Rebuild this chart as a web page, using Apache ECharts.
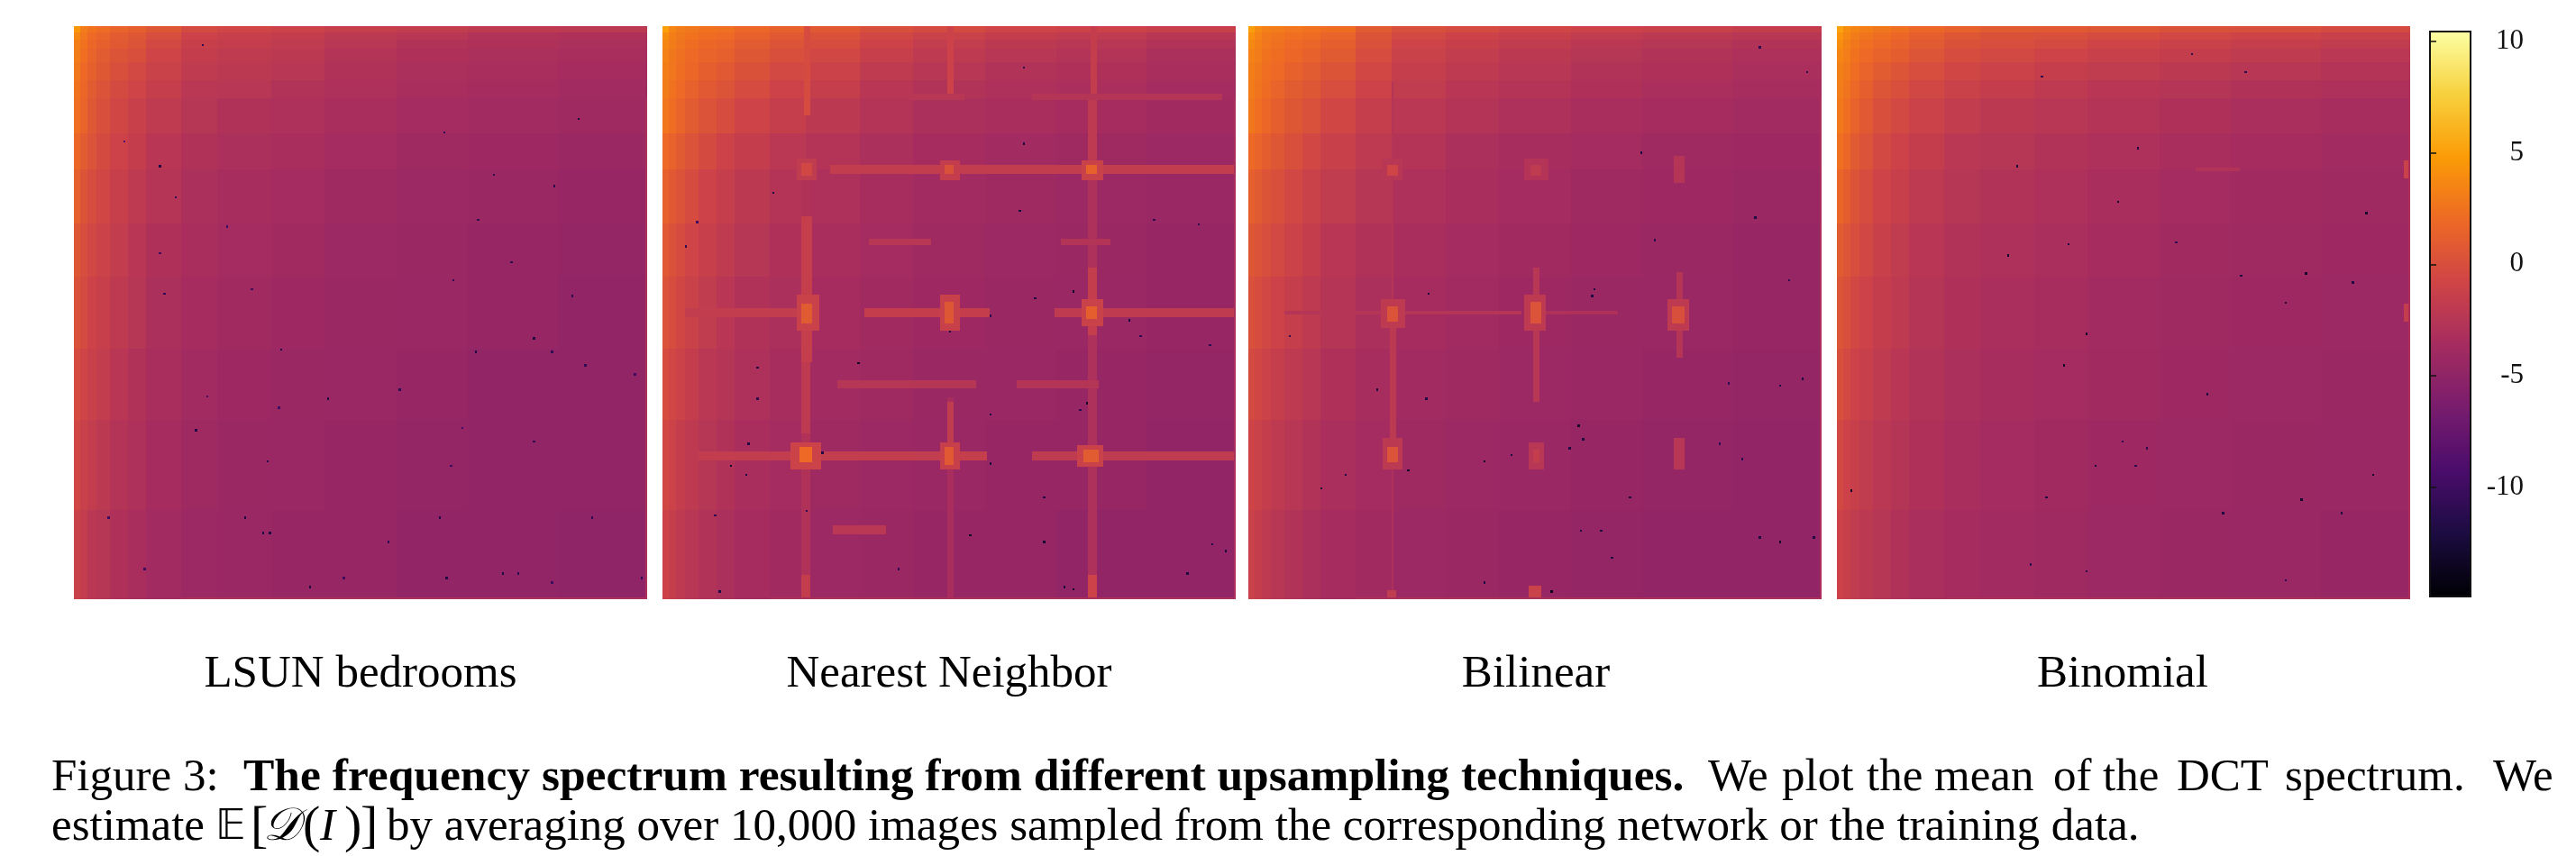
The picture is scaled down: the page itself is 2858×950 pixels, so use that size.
<!DOCTYPE html>
<html><head><meta charset="utf-8"><style>html,body{margin:0;padding:0;background:#fff}#c{width:2858px;height:950px}</style>
<script src="https://cdn.jsdelivr.net/npm/echarts@6/dist/echarts.min.js"></script></head><body><div id="c"></div>
<script>
const panelNames = ['LSUN bedrooms','Nearest Neighbor','Bilinear','Binomial'];
const binEdges = [0,3,6,10,16,24,32,48,64,88,112,144,176,216,256];
const colorTicks = [10,5,0,-5,-10];
const inferno = ['#000004','#1b0c41','#4a0c6b','#781c6d','#a52c60','#cf4446','#ed6925','#fb9b06','#f7d13d','#fcffa4'];

const lsunField = [
[4.6,3.0,2.5,2.1,1.6,1.2,0.6,-0.4,-0.7,-1.1,-1.5,-1.7,-2.0,-2.1],
[3.6,2.7,2.0,1.6,1.0,0.6,-0.1,-1.0,-1.4,-1.6,-2.1,-2.4,-2.8,-3.0],
[3.2,2.5,1.8,1.3,0.8,0.4,-0.5,-1.4,-1.6,-1.9,-2.4,-2.8,-3.0,-3.2],
[3.0,2.3,1.6,1.0,0.4,0.0,-0.8,-1.6,-1.9,-2.1,-2.7,-3.0,-3.2,-3.4],
[2.8,2.0,1.3,0.7,0.0,-0.5,-1.2,-1.9,-2.1,-2.4,-2.9,-3.2,-3.4,-3.6],
[2.5,1.8,1.0,0.3,-0.4,-0.8,-1.5,-2.2,-2.4,-2.8,-3.1,-3.4,-3.6,-3.8],
[2.3,1.6,0.7,0.0,-0.7,-1.3,-1.9,-2.5,-2.9,-3.1,-3.4,-3.7,-3.8,-4.0],
[1.8,1.0,0.3,-0.4,-1.0,-1.6,-2.3,-2.9,-3.2,-3.4,-3.7,-4.0,-4.1,-4.3],
[1.3,0.4,-0.2,-0.7,-1.4,-2.0,-2.6,-3.2,-3.5,-3.7,-4.0,-4.2,-4.3,-4.5],
[0.6,-0.1,-0.6,-1.1,-1.7,-2.3,-3.0,-3.4,-3.7,-3.9,-4.2,-4.3,-4.5,-4.7],
[0.2,-0.4,-1.0,-1.4,-2.0,-2.5,-3.2,-3.6,-3.9,-4.1,-4.3,-4.4,-4.6,-4.8],
[-0.3,-0.8,-1.3,-1.7,-2.3,-2.9,-3.4,-3.8,-4.1,-4.3,-4.4,-4.6,-4.8,-4.8],
[-0.7,-1.3,-1.7,-2.1,-2.7,-3.1,-3.6,-4.0,-4.3,-4.4,-4.5,-4.7,-4.8,-4.9],
[-1.2,-1.7,-2.2,-2.5,-3.0,-3.4,-3.8,-4.2,-4.4,-4.5,-4.6,-4.8,-4.9,-5.0]];
const nearestField = [
[5.0,3.6,3.0,2.8,2.5,2.4,1.8,1.4,0.8,0.0,-0.4,-0.8,-1.0,-1.4],
[4.0,3.2,2.8,2.5,2.2,2.0,1.4,0.8,0.2,-0.6,-1.2,-1.6,-1.9,-2.3],
[3.6,3.0,2.6,2.2,1.8,1.6,1.0,0.4,-0.2,-1.0,-1.7,-2.1,-2.4,-2.8],
[3.4,2.8,2.4,2.0,1.6,1.3,0.6,0.0,-0.6,-1.4,-2.0,-2.4,-2.7,-3.2],
[3.2,2.7,2.2,1.8,1.2,0.8,0.2,-0.5,-1.1,-1.9,-2.4,-2.8,-3.0,-3.4],
[3.0,2.5,2.0,1.4,0.8,0.4,-0.3,-1.0,-1.5,-2.3,-2.8,-3.1,-3.3,-3.7],
[2.7,2.2,1.6,1.0,0.3,-0.2,-0.9,-1.5,-2.1,-2.7,-3.2,-3.4,-3.6,-3.9],
[2.0,1.5,0.9,0.3,-0.4,-1.0,-1.6,-2.2,-2.7,-3.2,-3.6,-3.8,-4.0,-4.2],
[1.4,0.8,0.3,-0.3,-1.0,-1.5,-2.1,-2.7,-3.1,-3.5,-3.8,-4.0,-4.2,-4.4],
[0.8,0.2,-0.3,-0.8,-1.4,-1.9,-2.5,-3.0,-3.4,-3.7,-4.0,-4.2,-4.3,-4.5],
[0.3,-0.2,-0.7,-1.2,-1.8,-2.3,-2.9,-3.2,-3.6,-3.9,-4.1,-4.3,-4.4,-4.6],
[-0.2,-0.7,-1.1,-1.6,-2.2,-2.6,-3.1,-3.5,-3.8,-4.0,-4.3,-4.4,-4.5,-4.7],
[-0.6,-1.1,-1.6,-2.0,-2.5,-2.9,-3.4,-3.7,-4.0,-4.2,-4.4,-4.5,-4.6,-4.8],
[-1.0,-1.5,-2.0,-2.4,-2.8,-3.2,-3.6,-3.9,-4.2,-4.3,-4.5,-4.6,-4.8,-4.9]];
const bilinearField = [
[5.0,3.8,3.3,3.0,2.7,2.5,2.2,1.0,0.0,-0.3,-0.7,-1.0,-1.3,-1.6],
[4.2,3.4,2.9,2.6,2.3,2.1,1.6,0.4,-0.5,-1.0,-1.4,-1.8,-2.1,-2.4],
[3.8,3.2,2.7,2.4,2.0,1.7,1.2,0.1,-0.9,-1.4,-1.8,-2.2,-2.5,-2.8],
[3.4,3.0,2.5,2.2,1.8,1.4,0.9,-0.2,-1.2,-1.7,-2.1,-2.5,-2.8,-3.1],
[3.2,2.8,2.3,2.0,1.4,1.0,0.4,-0.6,-1.5,-2.0,-2.4,-2.8,-3.0,-3.3],
[3.0,2.6,2.1,1.6,1.0,0.6,-0.1,-1.0,-1.8,-2.3,-2.7,-3.0,-3.3,-3.5],
[2.8,2.3,1.8,1.2,0.6,0.1,-0.7,-1.5,-2.2,-2.7,-3.1,-3.4,-3.6,-3.8],
[2.0,1.6,1.1,0.6,0.0,-0.6,-1.3,-2.0,-2.7,-3.2,-3.5,-3.7,-4.0,-4.1],
[1.3,0.9,0.4,0.0,-0.6,-1.2,-1.8,-2.5,-3.1,-3.4,-3.7,-4.0,-4.1,-4.3],
[0.6,0.3,-0.1,-0.5,-1.1,-1.6,-2.3,-2.9,-3.4,-3.7,-3.9,-4.1,-4.3,-4.5],
[0.1,-0.2,-0.6,-1.0,-1.5,-2.0,-2.6,-3.2,-3.6,-3.8,-4.1,-4.3,-4.4,-4.6],
[-0.4,-0.7,-1.1,-1.5,-2.0,-2.4,-3.0,-3.5,-3.8,-4.0,-4.2,-4.4,-4.5,-4.7],
[-0.9,-1.2,-1.6,-2.0,-2.4,-2.8,-3.3,-3.7,-4.0,-4.2,-4.4,-4.5,-4.7,-4.8],
[-1.2,-1.6,-2.0,-2.4,-2.8,-3.2,-3.6,-3.9,-4.2,-4.3,-4.5,-4.7,-4.8,-4.9]];
const binomialField = [
[5.2,4.0,3.5,3.2,2.8,2.4,1.8,1.4,1.0,0.8,0.6,0.2,0.0,-0.4],
[4.4,3.6,3.0,2.6,2.2,1.8,1.2,0.6,0.2,0.0,-0.3,-0.6,-0.9,-1.3],
[4.0,3.3,2.8,2.3,1.9,1.5,0.9,0.2,-0.1,-0.4,-0.8,-1.2,-1.5,-1.8],
[3.6,3.1,2.5,2.0,1.5,1.1,0.5,-0.2,-0.5,-0.9,-1.3,-1.6,-1.9,-2.2],
[3.3,2.9,2.2,1.6,1.0,0.5,-0.1,-0.7,-1.1,-1.5,-1.8,-2.1,-2.4,-2.7],
[3.1,2.6,1.9,1.2,0.5,0.0,-0.6,-1.2,-1.6,-2.0,-2.3,-2.6,-2.9,-3.1],
[2.9,2.3,1.5,0.8,0.0,-0.5,-1.1,-1.7,-2.1,-2.4,-2.7,-3.0,-3.3,-3.5],
[2.4,1.8,0.9,0.3,-0.5,-1.0,-1.6,-2.2,-2.5,-2.8,-3.1,-3.4,-3.6,-3.8],
[1.7,1.1,0.4,-0.2,-0.9,-1.4,-2.0,-2.5,-2.8,-3.1,-3.4,-3.7,-3.9,-4.0],
[1.0,0.5,-0.1,-0.6,-1.3,-1.8,-2.3,-2.8,-3.1,-3.3,-3.6,-3.9,-4.0,-4.1],
[0.5,0.0,-0.6,-1.0,-1.6,-2.0,-2.6,-3.0,-3.3,-3.5,-3.8,-4.0,-4.1,-4.2],
[0.0,-0.5,-1.0,-1.4,-1.9,-2.3,-2.8,-3.2,-3.5,-3.7,-3.9,-4.1,-4.2,-4.3],
[-0.5,-1.0,-1.4,-1.8,-2.2,-2.6,-3.0,-3.4,-3.7,-3.9,-4.1,-4.2,-4.3,-4.4],
[-1.0,-1.4,-1.8,-2.1,-2.5,-2.9,-3.3,-3.6,-3.8,-4.0,-4.2,-4.3,-4.4,-4.5]];

// Ridges and peaks: [x0, y0, x1, y1, value] in frequency bins
const lsunRidges = [[48,255,256,256,-3.2],[255,32,256,256,-3.2]];
const nearestRidges = [
[63,0,66,40,-0.3],[127,0,130,30,-1.0],[191,0,194,30,-1.6],
[62,62,66,256,-2.9],[190,30,194,256,-3.1],[127,166,130,256,-3.4],
[62,85,67,150,-1.5],[62,150,66,182,-2.0],[190,30,194,64,-2.0],[190,108,194,138,-1.6],
[127,168,130,192,-1.8],[190,245,194,256,-1.0],[62,245,66,256,-1.6],
[75,62,256,66,-1.7],[10,126,60,130,-1.7],[90,126,146,130,-1.6],[175,126,256,130,-1.9],
[16,190,60,194,-1.7],[70,190,125,194,-1.7],[130,190,145,194,-1.5],[165,190,256,194,-1.9],
[110,30,135,33,-2.4],[165,30,250,33,-2.6],[92,95,120,98,-2.4],[178,95,200,98,-2.7],
[78,158,140,162,-2.5],[158,158,195,162,-2.6],[76,223,100,227,-2.2],
[60,59,69,69,-1.8],[62,61,67,67,-0.6],
[124,60,133,69,-1.6],[126,62,130,66,0.2],
[187,60,197,69,-1.2],[189,62,194,66,1.4],
[60,120,70,136,-1.2],[62,124,67,133,0.9],
[124,120,133,136,-1.3],[126,123,130,133,0.6],
[187,122,197,134,-1.2],[189,125,194,131,1.2],
[57,186,71,198,-1.1],[61,188,67,195,2.0],
[124,186,133,198,-1.4],[126,188,130,196,0.8],
[185,187,197,197,-1.2],[188,189,195,195,1.0],
[48,255,256,256,-3.2],[255,32,256,256,-3.2]];
const bilinearRidges = [
[64,25,65,125,-2.6],[63,132,66,190,-2.1],[64,196,65,256,-3.1],
[127,108,130,168,-2.4],[191,110,194,148,-2.6],
[16,127,60,129,-2.6],[70,127,122,129,-2.6],[132,127,165,129,-3.0],
[60,59,69,69,-2.4],[62,62,67,67,-0.8],
[123,59,134,69,-2.7],[126,62,131,67,-1.9],
[190,58,195,70,-2.6],
[59,122,70,135,-2.0],[62,125,67,132,0.3],
[123,120,133,136,-2.0],[126,123,131,133,0.3],
[187,122,197,136,-2.0],[189,125,195,133,0.0],
[60,184,69,198,-2.1],[62,188,67,195,0.3],
[125,186,132,198,-2.4],[127,189,130,195,-1.6],
[190,184,195,198,-2.4],
[125,250,131,256,-1.2],[62,252,66,256,-1.8],
[48,255,256,256,-3.2],[255,32,256,256,-3.2]];
const binomialRidges = [
[160,63,180,65,-2.8],[253,60,256,68,-1.2],[253,124,256,132,-1.6],
[48,255,256,256,-3.2],[255,32,256,256,-3.2]];

// Dark outlier cells: [x, y, value]
const lsunDark = [[38,62,-12],[45,76,-11],[68,89,-10],[38,101,-10],[40,119,-11],[79,117,-10],[92,144,-12],[180,86,-11],[195,105,-11],[205,139,-12],[222,120,-11],[228,151,-11],[250,155,-10],[145,162,-11],[113,166,-12],[59,165,-10],[54,180,-12],[173,179,-10],[205,185,-11],[86,194,-11],[15,219,-10],[76,219,-12],[84,226,-12],[87,226,-12],[163,219,-12],[231,219,-11],[191,244,-12],[198,244,-11],[166,246,-12],[253,246,-11],[105,250,-12],[120,246,-10],[213,248,-10],[31,242,-10],[140,230,-11],[187,66,-11],[165,47,-11],[225,41,-12],[22,51,-9],[57,8,-11],[169,113,-11],[179,145,-12],[213,145,-11],[91,170,-10],[214,71,-11],[168,196,-10]];
const nearestDark = [[49,74,-12],[159,82,-12],[183,118,-13],[128,136,-12],[208,131,-12],[166,121,-12],[42,152,-12],[87,150,-13],[42,166,-11],[189,168,-13],[38,186,-12],[71,190,-12],[30,196,-13],[37,200,-12],[146,195,-12],[170,210,-12],[137,227,-13],[170,230,-13],[245,231,-12],[179,250,-12],[183,251,-13],[234,244,-12],[25,252,-12],[23,218,-11],[161,18,-11],[161,52,-12],[10,98,-11],[15,87,-10],[219,86,-11],[239,88,-11],[146,129,-11],[213,138,-11],[244,142,-11],[186,171,-11],[146,173,-12],[64,216,-11],[251,234,-12],[105,242,-11]];
const bilinearDark = [[80,119,-12],[154,117,-12],[153,120,-12],[18,138,-11],[57,162,-12],[79,166,-12],[71,198,-13],[43,200,-12],[32,206,-12],[105,194,-13],[117,191,-12],[143,188,-12],[147,178,-13],[149,184,-12],[210,186,-11],[170,210,-12],[148,225,-12],[157,225,-12],[228,228,-12],[237,230,-13],[162,237,-12],[135,252,-14],[105,248,-12],[226,85,-12],[181,95,-11],[175,56,-12],[249,20,-11],[228,9,-11],[241,113,-11],[237,160,-12],[214,159,-11],[220,193,-11],[252,228,-12],[247,157,-12]];
const binomialDark = [[80,62,-12],[125,78,-13],[236,83,-13],[103,97,-12],[76,102,-13],[151,96,-11],[209,110,-13],[180,111,-12],[230,114,-12],[200,123,-12],[111,137,-13],[101,151,-13],[165,164,-12],[6,207,-13],[93,210,-12],[115,196,-12],[239,200,-13],[207,211,-13],[225,217,-12],[172,217,-12],[134,54,-12],[158,12,-11],[182,20,-11],[91,22,-11],[111,243,-11],[200,247,-11],[86,240,-11],[127,185,-11],[138,188,-11],[133,196,-11]];

const fields = [lsunField, nearestField, bilinearField, binomialField];
const ridges = [lsunRidges, nearestRidges, bilinearRidges, binomialRidges];
const darks = [lsunDark, nearestDark, bilinearDark, binomialDark];

const panelLeft = [82, 735, 1385, 2038], panelTop = 29, panelSize = 636;
const serif = '"Liberation Serif"';

function rows(i){
  const out = [];
  fields[i].forEach((row, r) => row.forEach((v, c) => out.push([binEdges[c], binEdges[r], binEdges[c+1], binEdges[r+1], v])));
  ridges[i].forEach(d => out.push(d));
  darks[i].forEach(d => out.push([d[0], d[1], d[0]+1, d[1]+1, d[2]]));
  return out;
}
function renderCell(params, api){
  const a = api.coord([api.value(0), api.value(1)]);
  const b = api.coord([api.value(2), api.value(3)]);
  const x = Math.round(a[0]), y = Math.round(a[1]);
  return {type:'rect', shape:{x, y, width:Math.max(1,Math.round(b[0])-x), height:Math.max(1,Math.round(b[1])-y)}, style:{fill:api.visual('color')}};
}
const grid = [], xAxis = [], yAxis = [], series = [];
panelLeft.forEach((left, i) => {
  grid.push({left, top:panelTop, width:panelSize, height:panelSize, show:false});
  xAxis.push({type:'value', gridIndex:i, min:0, max:256, show:false});
  yAxis.push({type:'value', gridIndex:i, min:0, max:256, inverse:true, show:false});
  series.push({type:'custom', name:panelNames[i], xAxisIndex:i, yAxisIndex:i, data:rows(i), renderItem:renderCell,
    encode:{x:[0,2], y:[1,3]}, silent:true, animation:false, clip:true});
});
// colour bar axis
grid.push({left:2696, top:35, width:45, height:627, show:true, backgroundColor:'transparent', borderColor:'#111', borderWidth:2, z:10});
xAxis.push({type:'value', gridIndex:4, min:0, max:1, show:false});
yAxis.push({type:'value', gridIndex:4, min:-14.9, max:10.44, position:'right', z:10, splitLine:{show:false},
  axisLine:{show:false},
  axisTick:{show:true, length:7, customValues:colorTicks, lineStyle:{color:'#111', width:1.5}},
  axisLabel:{show:true, customValues:colorTicks, align:'right', margin:59, color:'#111', fontFamily:serif, fontSize:31,
    formatter:v => String(v)}});

const text = (x, y, s, extra) => ({type:'text', x, y, silent:true,
  style:Object.assign({text:s, fill:'#000', font:'51px '+serif, textAlign:'left', textVerticalAlign:'middle'}, extra||{})});
const center = {textAlign:'center'};
const tall = {font:'58px '+serif};
const line1 = 864, line2 = 919;
const graphicEls = [
  text(400, 749, panelNames[0], center), text(1053, 749, panelNames[1], center),
  text(1704, 749, panelNames[2], center), text(2355, 749, panelNames[3], center),
  text(57, line1, 'Figure 3:'),
  text(270, line1, 'The frequency spectrum resulting from different upsampling techniques.', {font:'bold 51.5px '+serif}),
  text(1895, line1, 'We'), text(1977, line1, 'plot'), text(2071, line1, 'the'), text(2146, line1, 'mean'),
  text(2278, line1, 'of'), text(2333, line1, 'the'), text(2415, line1, 'DCT'), text(2535, line1, 'spectrum.'),
  text(2766, line1, 'We'),
  text(57, line2, 'estimate'), text(239, line2, '\u{1D53C}', {font:'46px "DejaVu Sans"'}),
  text(278, line2, '[', tall),
  text(292, line2, '\u{1D49F}', {font:'italic 51px "DejaVu Serif", '+serif}), text(336, line2, '(', tall),
  text(355, line2, 'I', {font:'italic 51px '+serif}), text(382, line2, ')', tall), text(400, line2, ']', tall),
  text(429, line2, 'by averaging over 10,000 images sampled from the corresponding network or the training data.')
];
const chart = echarts.init(document.getElementById('c'), null, {renderer:'canvas'});
chart.setOption({animation:false, backgroundColor:'#fff', grid, xAxis, yAxis, series,
  visualMap:{type:'continuous', show:true, seriesIndex:[0,1,2,3], dimension:4, min:-14.9, max:10.44,
    left:2696, top:35, itemWidth:45, itemHeight:627, padding:0, calculable:false, hoverLink:false, showLabel:false,
    text:null, inRange:{color:inferno}},
  graphic:{elements:graphicEls}});
</script></body></html>
